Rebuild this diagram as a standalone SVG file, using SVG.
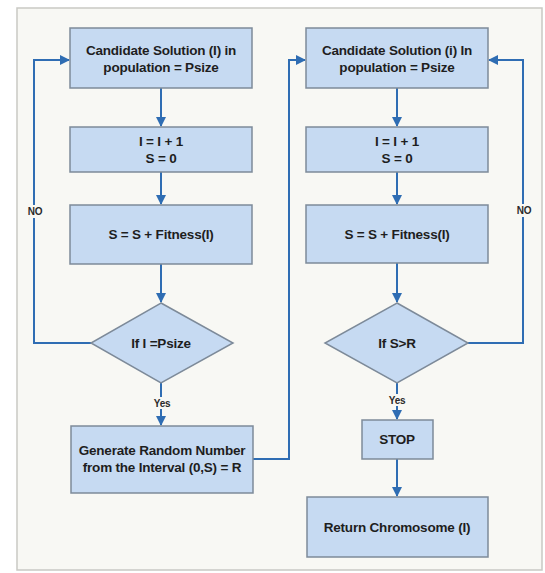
<svg xmlns="http://www.w3.org/2000/svg" width="545" height="573" viewBox="0 0 545 573">
  <style>
    .box { fill: #c6daf2; stroke: #7d8a99; stroke-width: 1.5; }
    .lbl { font-family: "Liberation Sans", Arial, sans-serif; font-size: 13.5px; font-weight: bold; fill: #1e1e1e; text-anchor: middle; letter-spacing: -0.2px; }
    .small { font-family: "Liberation Sans", Arial, sans-serif; font-size: 10px; font-weight: bold; fill: #2a2a2a; text-anchor: middle; letter-spacing: -0.3px; }
    .edge { fill: none; stroke: #2f6db3; stroke-width: 2; }
  </style>
  <defs>
    <marker id="arrow" viewBox="0 0 10 10" refX="9" refY="5" markerWidth="5" markerHeight="5" orient="auto">
      <path d="M0,0 L10,5 L0,10 z" fill="#2f6db3"/>
    </marker>
  </defs>

  <!-- page frame -->
  <rect x="0" y="0" width="545" height="573" fill="#ffffff"/>
  <rect x="17" y="8" width="525" height="562" fill="#f8f8f4" stroke="#c9c9c4" stroke-width="1.5"/>

  <g id="connectors">
    <!-- left column -->
    <path class="edge" d="M161,88 V126" marker-end="url(#arrow)"/>
    <path class="edge" d="M161,172 V204" marker-end="url(#arrow)"/>
    <path class="edge" d="M161,264 V302" marker-end="url(#arrow)"/>
    <path class="edge" d="M161,383 V425" marker-end="url(#arrow)"/>
    <path class="edge" d="M91,343 H34 V60 H69" marker-end="url(#arrow)"/>
    <path class="edge" d="M253,459 H289 V60 H305" marker-end="url(#arrow)"/>
    <!-- right column -->
    <path class="edge" d="M397,88 V126" marker-end="url(#arrow)"/>
    <path class="edge" d="M397,172 V204" marker-end="url(#arrow)"/>
    <path class="edge" d="M397,263 V302" marker-end="url(#arrow)"/>
    <path class="edge" d="M397,383 V419" marker-end="url(#arrow)"/>
    <path class="edge" d="M397,459 V496" marker-end="url(#arrow)"/>
    <path class="edge" d="M468,343 H523 V60 H489" marker-end="url(#arrow)"/>
    <!-- branch labels -->
    <rect x="24" y="205" width="21" height="13" fill="#f8f8f4"/>
    <text class="small" x="35" y="215">NO</text>
    <rect x="513" y="204" width="21" height="13" fill="#f8f8f4"/>
    <text class="small" x="524" y="214">NO</text>
    <rect x="149" y="397" width="26" height="12" fill="#f8f8f4"/>
    <text class="small" x="162" y="406.5">Yes</text>
    <rect x="384" y="394" width="26" height="12" fill="#f8f8f4"/>
    <text class="small" x="397" y="403.5">Yes</text>
  </g>

  <!-- left column nodes -->
  <g id="l-candidate">
    <rect class="box" x="70" y="28" width="182" height="60"/>
    <text class="lbl" x="161" y="55">Candidate Solution (I) in</text>
    <text class="lbl" x="161" y="72">population = Psize</text>
  </g>
  <g id="l-increment">
    <rect class="box" x="70" y="127" width="182" height="45"/>
    <text class="lbl" x="161" y="146">I = I + 1</text>
    <text class="lbl" x="161" y="163">S = 0</text>
  </g>
  <g id="l-fitness">
    <rect class="box" x="70" y="205" width="182" height="59"/>
    <text class="lbl" x="161" y="239">S = S + Fitness(I)</text>
  </g>
  <g id="l-decision">
    <polygon class="box" points="161,303 233,343 161,383 91,343"/>
    <text class="lbl" x="161" y="348">If I =Psize</text>
  </g>
  <g id="l-random">
    <rect class="box" x="71" y="426" width="182" height="67"/>
    <text class="lbl" x="162" y="455">Generate Random Number</text>
    <text class="lbl" x="162" y="472">from the Interval (0,S) = R</text>
  </g>

  <!-- right column nodes -->
  <g id="r-candidate">
    <rect class="box" x="306" y="28" width="182" height="60"/>
    <text class="lbl" x="397" y="55">Candidate Solution (i) In</text>
    <text class="lbl" x="397" y="72">population = Psize</text>
  </g>
  <g id="r-increment">
    <rect class="box" x="306" y="127" width="182" height="45"/>
    <text class="lbl" x="397" y="146">I = I + 1</text>
    <text class="lbl" x="397" y="163">S = 0</text>
  </g>
  <g id="r-fitness">
    <rect class="box" x="306" y="205" width="182" height="58"/>
    <text class="lbl" x="397" y="239">S = S + Fitness(I)</text>
  </g>
  <g id="r-decision">
    <polygon class="box" points="397,303 468,343 397,383 325,343"/>
    <text class="lbl" x="397" y="348">If S&gt;R</text>
  </g>
  <g id="r-stop">
    <rect class="box" x="362" y="420" width="71" height="39"/>
    <text class="lbl" x="397" y="444">STOP</text>
  </g>
  <g id="r-return">
    <rect class="box" x="307" y="497" width="181" height="60"/>
    <text class="lbl" x="397" y="532">Return Chromosome (I)</text>
  </g>
</svg>
